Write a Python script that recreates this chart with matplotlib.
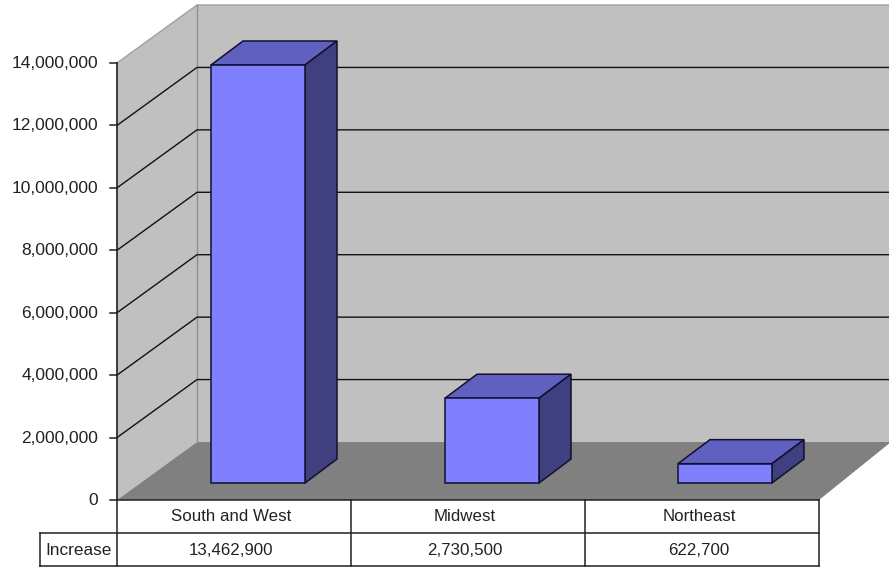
import matplotlib
matplotlib.use('Agg')
import matplotlib.pyplot as plt
from matplotlib.patches import Polygon

plt.rcParams['font.family'] = ['Liberation Sans', 'DejaVu Sans']

# Data
regions = ['South and West', 'Midwest', 'Northeast']
increase = [13462900, 2730500, 622700]
increase_labels = ['13,462,900', '2,730,500', '622,700']
row_name = 'Increase'
y_ticks = [0, 2000000, 4000000, 6000000, 8000000, 10000000, 12000000, 14000000]

# Layout in image pixels
W, H = 889, 567
left, right = 117, 819
y0, y14 = 500, 63
dx, dy = 80, -58       # depth of the box
bar_dx, bar_dy = 32, -24
bar_base = 483
bar_lefts = [211, 445, 678]
bar_w = 94
row1, row2 = 533, 566
name_left = 40
cols = [117, 351, 585, 819]

def ypx(v):
    return y0 - (y0 - y14) * v / 14000000

def bar_top(v):
    return bar_base - 418 * v / 13462900

fig = plt.figure(figsize=(W / 100, H / 100), dpi=100)
ax = fig.add_axes([0, 0, 1, 1])
ax.set_xlim(0, W)
ax.set_ylim(H, 0)
ax.axis('off')

# walls and floor
ax.add_patch(Polygon([(left, y14), (left + dx, y14 + dy), (left + dx, y0 + dy), (left, y0)],
                     fc='#C0C0C0', ec='none', zorder=1))
ax.add_patch(Polygon([(left + dx, y14 + dy), (W + 2, y14 + dy), (W + 2, y0 + dy), (left + dx, y0 + dy)],
                     fc='#C0C0C0', ec='none', zorder=1))
ax.add_patch(Polygon([(left, y0), (left + dx, y0 + dy), (W + 2, y0 + dy), (right, y0)],
                     fc='#808080', ec='none', zorder=2))
ax.plot([left, left + dx, W + 2], [y14, y14 + dy, y14 + dy], color='#A0A0A0', lw=1, zorder=2)
ax.plot([left + dx, left + dx], [y14 + dy, y0 + dy], color='#909090', lw=1, zorder=2)

# gridlines and ticks
for t in y_ticks:
    y = ypx(t)
    ax.plot([110, left], [y, y], color='#202020', lw=1.1, zorder=5)
    ax.text(98, y + 0.5, f'{t:,}', ha='right', va='center', fontsize=12.5, color='#222222', zorder=6)
    if 0 < t < 14000000:
        ax.plot([left, left + dx, W + 2], [y, y + dy, y + dy], color='#111111', lw=1, zorder=3)
ax.plot([left, left], [y14, y0], color='#202020', lw=1.2, zorder=5)

# bars
for x, v in zip(bar_lefts, increase):
    top = bar_top(v)
    ax.add_patch(Polygon([(x, top), (x + bar_w, top), (x + bar_w + bar_dx, top + bar_dy), (x + bar_dx, top + bar_dy)],
                         fc='#6060C0', ec='#101030', lw=1.1, zorder=4))
    ax.add_patch(Polygon([(x + bar_w, top), (x + bar_w + bar_dx, top + bar_dy),
                          (x + bar_w + bar_dx, bar_base + bar_dy), (x + bar_w, bar_base)],
                         fc='#404080', ec='#101030', lw=1.1, zorder=4))
    ax.add_patch(Polygon([(x, top), (x + bar_w, top), (x + bar_w, bar_base), (x, bar_base)],
                         fc='#8080FF', ec='#101030', lw=1.1, zorder=4))

# data table
ax.plot([left, right], [y0, y0], color='#202020', lw=1.1, zorder=5)
ax.plot([name_left, right], [row1, row1], color='#202020', lw=1.1, zorder=5)
ax.plot([name_left, right], [row2, row2], color='#202020', lw=1.1, zorder=5)
ax.plot([name_left, name_left], [row1, row2], color='#202020', lw=1.1, zorder=5)
for c in cols:
    ax.plot([c, c], [y0, row2], color='#202020', lw=1.1, zorder=5)
ax.text((name_left + left) / 2, (row1 + row2) / 2 + 1, row_name, ha='center', va='center',
        fontsize=12.4, color='#222222', zorder=6)
for i in range(3):
    xc = (cols[i] + cols[i + 1]) / 2 - 3
    ax.text(xc, (y0 + row1) / 2, regions[i], ha='center', va='center', fontsize=12.2, color='#222222', zorder=6)
    ax.text(xc, (row1 + row2) / 2 + 1, increase_labels[i], ha='center', va='center', fontsize=12.2, color='#222222', zorder=6)

fig.savefig('out.png', dpi=100)
